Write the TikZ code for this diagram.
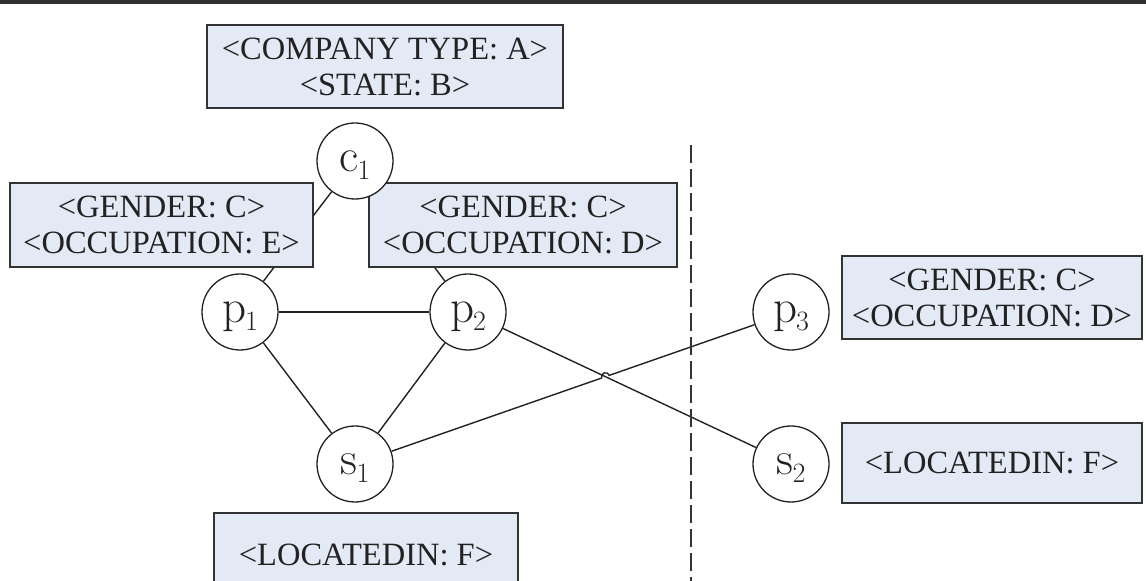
\documentclass[tikz,border=0pt]{standalone}
\usepackage{fontspec}
\setmainfont{Liberation Serif}
\newfontfamily\lmfont{Latin Modern Roman}
\usetikzlibrary{calc}
\pgfdeclarelayer{bg}
\pgfsetlayers{bg,main}
\definecolor{attrfill}{HTML}{E4EAF5}
\definecolor{ink}{HTML}{222222}
\definecolor{boxline}{HTML}{333333}
\definecolor{topbar}{HTML}{2E2F31}
% entity label: upright letter with a lowered index
\newcommand\entlabel[2]{{\lmfont\fontsize{47}{47}\selectfont #1\kern-1pt\raisebox{-8pt}{\fontsize{28}{28}\selectfont #2}}}
\begin{document}
\begin{tikzpicture}[x=1pt,y=1pt,
  ent/.style={circle, draw=ink, line width=1.3pt, fill=white, minimum size=76pt,
    inner sep=0pt, text height=22pt, text depth=0pt, text=ink},
  attr/.style={draw=boxline, line width=2pt, fill=attrfill, inner sep=0pt,
    align=center, font=\fontsize{32.5}{36}\selectfont, text=ink},
  link/.style={draw=ink, line width=1.4pt},
  divider/.style={draw=boxline, line width=2pt, dash pattern=on 18pt off 6pt}]
\useasboundingbox (0,0) rectangle (1146,581);
\clip (0,0) rectangle (1146,581);

% strip along the top edge
\fill[topbar] (0,576.5) rectangle (1146,581);

% attribute boxes
\node[attr, minimum width=356pt, minimum height=83pt] (attrc1) at (385,514.5)
  {<COMPANY TYPE: A>\\<STATE: B>};
\node[attr, minimum width=303pt, minimum height=84pt] (attrp1) at (161.5,356)
  {<GENDER: C>\\<OCCUPATION: E>};
\node[attr, minimum width=308pt, minimum height=84pt] (attrp2) at (523,356)
  {<GENDER: C>\\<OCCUPATION: D>};
\node[attr, minimum width=300pt, minimum height=83pt] (attrp3) at (992,283.5)
  {<GENDER: C>\\<OCCUPATION: D>};
\node[attr, minimum width=300pt, minimum height=80pt] (attrs2) at (992,118)
  {<LOCATEDIN: F>};
\node[attr, minimum width=304pt, minimum height=84pt] (attrs1) at (366,26)
  {<LOCATEDIN: F>};

% entities
\node[ent] (c1) at (355,420) {\entlabel{c}{1}};
\node[ent] (p1) at (240,269) {\entlabel{p}{1}};
\node[ent] (p2) at (468,269) {\entlabel{p}{2}};
\node[ent] (s1) at (355,117) {\entlabel{s}{1}};
\node[ent] (p3) at (791,269) {\entlabel{p}{3}};
\node[ent] (s2) at (791,117) {\entlabel{s}{2}};

% relations, kept behind the boxes
\begin{pgfonlayer}{bg}
  \draw[link] (c1) -- (p1);
  \draw[link] (c1) -- (p2);
  \draw[link] (p1) -- (p2);
  \draw[link] (p1) -- (s1);
  \draw[link] (p2) -- (s1);
  \draw[link] (p2) -- (s2);
  \coordinate (X) at (intersection of s1--p3 and p2--s2);
  \draw[link] (s1) -- ($(X)!4pt!(s1)$)
    arc[start angle=199.22, end angle=19.22, radius=4pt] -- (p3);
\end{pgfonlayer}

% vertical separator
\coordinate (dtop) at (691,436);
\coordinate (dbot) at (691,0);
\draw[divider] (dtop) -- (dbot);
\end{tikzpicture}
\end{document}
